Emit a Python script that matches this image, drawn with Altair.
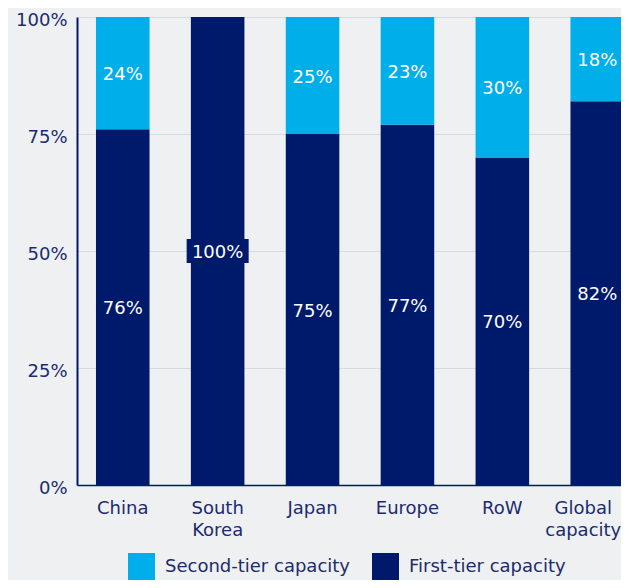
import altair as alt
import pandas as pd

regions = ["China", "South Korea", "Japan", "Europe", "RoW", "Global capacity"]
first_tier = [76, 100, 75, 77, 70, 82]
second_tier = [24, 0, 25, 23, 30, 18]
tiers = ["Second-tier capacity", "First-tier capacity"]
y_ticks = [0, 25, 50, 75, 100]

rows = []
for r, f, s in zip(regions, first_tier, second_tier):
    rows.append({"region": r, "tier": "First-tier capacity", "value": f, "order": 0})
    rows.append({"region": r, "tier": "Second-tier capacity", "value": s, "order": 1})
df = pd.DataFrame(rows)

NAVY = "#001a6b"
BLUE = "#00aeea"
TEXT = "#1b2b6e"
FONT = "DejaVu Sans"

x_scale = alt.Scale(range=[0, 566], paddingInner=0.4357, paddingOuter=0.2)

x_enc = alt.X(
    "region:N",
    sort=regions,
    scale=x_scale,
    axis=alt.Axis(
        title=None,
        labelAngle=0,
        labelExpr="split(datum.label, ' ')",
        labelFont=FONT,
        labelFontSize=18,
        labelColor=TEXT,
        labelPadding=14,
        labelLineHeight=22,
        labelBaseline="top",
        labelOffset={
            "condition": {"test": "datum.value == 'Global capacity'", "value": -14},
            "value": 0,
        },
        ticks=False,
        domainColor=NAVY,
        domainWidth=1.5,
        grid=False,
    ),
)

y_scale = alt.Scale(domain=[0, 100], nice=False)

bars = alt.Chart(df).mark_bar().encode(
    x=x_enc,
    y=alt.Y(
        "value:Q",
        stack="zero",
        scale=y_scale,
        axis=alt.Axis(
            title=None,
            values=y_ticks,
            labelExpr="datum.value + '%'",
            labelFont=FONT,
            labelFontSize=18,
            labelColor=TEXT,
            labelPadding=10,
            labelOffset=3,
            ticks=False,
            domainColor=NAVY,
            domainWidth=2,
            grid=True,
            gridColor="#d9dadd",
            gridWidth=1,
        ),
    ),
    color=alt.Color(
        "tier:N",
        scale=alt.Scale(domain=tiers, range=[BLUE, NAVY]),
        legend=alt.Legend(
            title=None,
            orient="none",
            legendX=51,
            legendY=536,
            direction="horizontal",
            symbolType="square",
            symbolSize=729,
            symbolStrokeWidth=0,
            symbolOpacity=1,
            labelFont=FONT,
            labelFontSize=18,
            labelColor=TEXT,
            labelOffset=10,
            labelLimit=400,
            columnPadding=22,
            padding=0,
        ),
    ),
    order=alt.Order("order:Q"),
)

stacked = (
    alt.Chart(df)
    .transform_stack(
        stack="value",
        as_=["y0", "y1"],
        groupby=["region"],
        sort=[alt.SortField("order", order="ascending")],
    )
    .transform_calculate(mid="(datum.y0 + datum.y1) / 2", txt="datum.value + '%'")
    .transform_filter("datum.value > 0")
)

label_box = (
    stacked.transform_filter("datum.value == 100")
    .mark_point(
        shape="M-1,-0.39H1V0.39H-1Z",
        size=3844,
        filled=True,
        opacity=1,
        color=NAVY,
        strokeWidth=0,
    )
    .encode(
        x=alt.X("region:N", sort=regions, scale=x_scale),
        y=alt.Y("mid:Q", scale=y_scale),
    )
)

labels = stacked.mark_text(
    color="white", font=FONT, fontSize=18, baseline="middle", dy=2
).encode(
    x=alt.X("region:N", sort=regions, scale=x_scale),
    y=alt.Y("mid:Q", scale=y_scale),
    text="txt:N",
)

chart = (
    alt.layer(bars, label_box, labels)
    .properties(
        width=544,
        height=468,
        background="#eff0f2",
        padding={"left": 69, "top": 9, "right": 0, "bottom": 95},
        autosize=alt.AutoSizeParams(type="none"),
    )
    .configure_view(stroke=None)
)

chart.save("out.html", embed_options={"renderer": "svg", "actions": False})
